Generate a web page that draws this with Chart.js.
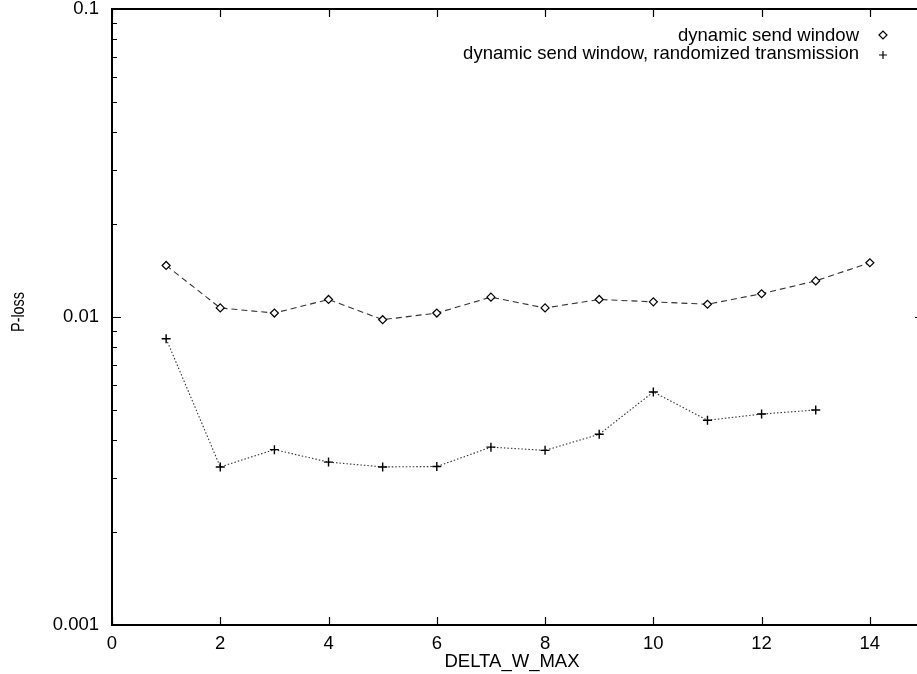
<!DOCTYPE html>
<html>
<head>
<meta charset="utf-8">
<title>P-loss vs DELTA_W_MAX</title>
<script src="https://cdn.jsdelivr.net/npm/chart.js"></script>
<style>
  html, body { margin: 0; padding: 0; background: #fff; overflow: hidden; }
  #wrap { position: relative; width: 940px; height: 674px; }
</style>
</head>
<body>
<div id="wrap"><canvas id="lossChart"></canvas></div>
<script>
// DELTA_W_MAX settings that were measured
const deltaW = [1, 2, 3, 4, 5, 6, 7, 8, 9, 10, 11, 12, 13, 14];
// loss probability, dynamic send window
const lossDynamic = [0.0147, 0.0107, 0.0103, 0.0114, 0.0098, 0.0103, 0.0116, 0.0107, 0.0114, 0.0112, 0.0110, 0.0119, 0.0131, 0.0150];
// loss probability, dynamic send window + randomized transmission (no run for 14)
const lossRandom = [0.0085, 0.00326, 0.00371, 0.00338, 0.00326, 0.00327, 0.00378, 0.00369, 0.00416, 0.00571, 0.00462, 0.00484, 0.00499];

const xTicks = [0, 2, 4, 6, 8, 10, 12, 14];
const yMajor = [0.001, 0.01, 0.1];
const yTickText = ['0.001', '0.01', '0.1'];
const seriesNames = ['dynamic send window', 'dynamic send window, randomized transmission'];

const FONT = '"Liberation Sans", Arial, Helvetica, sans-serif';

function toPoints(xs, ys) {
  return ys.map((v, i) => ({ x: xs[i], y: v }));
}

function drawMarker(ctx, style, x, y) {
  ctx.save();
  ctx.strokeStyle = '#000';
  ctx.lineWidth = 1.2;
  ctx.setLineDash([]);
  ctx.beginPath();
  if (style === 'rectRot') {
    ctx.moveTo(x - 4, y);
    ctx.lineTo(x, y - 4);
    ctx.lineTo(x + 4, y);
    ctx.lineTo(x, y + 4);
    ctx.closePath();
    ctx.fillStyle = '#fff';
    ctx.fill();
  } else {
    ctx.moveTo(x - 4, y);
    ctx.lineTo(x + 4, y);
    ctx.moveTo(x, y - 4);
    ctx.lineTo(x, y + 4);
  }
  ctx.stroke();
  ctx.restore();
}

// gnuplot-style frame: border, inward ticks on all four sides, labels, key
const framePlugin = {
  id: 'frame',
  afterDraw(chart) {
    const ctx = chart.ctx;
    const area = chart.chartArea;
    const xs = chart.scales.x;
    const ys = chart.scales.y;
    ctx.save();
    ctx.strokeStyle = '#000';
    ctx.lineWidth = 2;
    ctx.beginPath();
    ctx.moveTo(area.right, area.top);
    ctx.lineTo(area.left, area.top);
    ctx.lineTo(area.left, area.bottom);
    ctx.lineTo(area.right, area.bottom);
    ctx.stroke();

    ctx.lineWidth = 1.2;
    ctx.beginPath();
    xTicks.forEach(t => {
      const px = Math.round(xs.getPixelForValue(t)) + 0.5;
      ctx.moveTo(px, area.bottom);
      ctx.lineTo(px, area.bottom - 8);
      ctx.moveTo(px, area.top);
      ctx.lineTo(px, area.top + 8);
    });
    yMajor.forEach((d, i) => {
      const py = Math.round(ys.getPixelForValue(d)) + 0.5;
      ctx.moveTo(area.left, py);
      ctx.lineTo(area.left + 9, py);
      ctx.moveTo(area.right, py);
      ctx.lineTo(area.right - 9, py);
      if (i < yMajor.length - 1) {
        for (let m = 2; m <= 9; m++) {
          const pm = Math.round(ys.getPixelForValue(d * m)) + 0.5;
          ctx.moveTo(area.left, pm);
          ctx.lineTo(area.left + 5, pm);
          ctx.moveTo(area.right, pm);
          ctx.lineTo(area.right - 5, pm);
        }
      }
    });
    ctx.stroke();

    ctx.fillStyle = '#000';
    ctx.font = '18.5px ' + FONT;
    ctx.textBaseline = 'middle';
    ctx.textAlign = 'center';
    xTicks.forEach(t => ctx.fillText(String(t), xs.getPixelForValue(t), 644));
    ctx.textAlign = 'right';
    yMajor.forEach((d, i) => ctx.fillText(yTickText[i], 99, ys.getPixelForValue(d)));

    ctx.textAlign = 'center';
    ctx.fillText('DELTA_W_MAX', 512, 662);
    ctx.save();
    ctx.translate(19, 312);
    ctx.rotate(-Math.PI / 2);
    ctx.scale(0.82, 1);
    ctx.font = '17.5px ' + FONT;
    ctx.fillText('P-loss', 0, 0);
    ctx.restore();

    // key
    ctx.textAlign = 'right';
    ctx.fillText(seriesNames[0], 859, 36);
    ctx.fillText(seriesNames[1], 859, 54);
    ctx.restore();
    drawMarker(ctx, 'rectRot', 883, 35);
    drawMarker(ctx, 'cross', 883, 55);
  }
};

new Chart(document.getElementById('lossChart'), {
  type: 'line',
  data: {
    datasets: [{
      label: seriesNames[0],
      data: toPoints(deltaW, lossDynamic),
      borderColor: '#333',
      borderWidth: 1.1,
      borderDash: [6, 4],
      pointStyle: 'rectRot',
      pointRadius: 4,
      pointBorderWidth: 1.2,
      pointBorderColor: '#000',
      pointBackgroundColor: '#fff',
      tension: 0,
      fill: false
    }, {
      label: seriesNames[1],
      data: toPoints(deltaW, lossRandom),
      borderColor: '#333',
      borderWidth: 1.1,
      borderDash: [1.5, 2],
      pointStyle: 'cross',
      pointRadius: 4.5,
      pointBorderWidth: 1.4,
      pointBorderColor: '#000',
      tension: 0,
      fill: false
    }]
  },
  options: {
    responsive: true,
    maintainAspectRatio: false,
    animation: false,
    events: [],
    layout: { padding: { left: 112, top: 9, right: 16, bottom: 49 } },
    scales: {
      x: { type: 'linear', min: 0, max: 15, display: false },
      y: { type: 'logarithmic', min: 0.001, max: 0.1, display: false }
    },
    plugins: {
      legend: { display: false },
      tooltip: { enabled: false }
    }
  },
  plugins: [framePlugin]
});
</script>
</body>
</html>
